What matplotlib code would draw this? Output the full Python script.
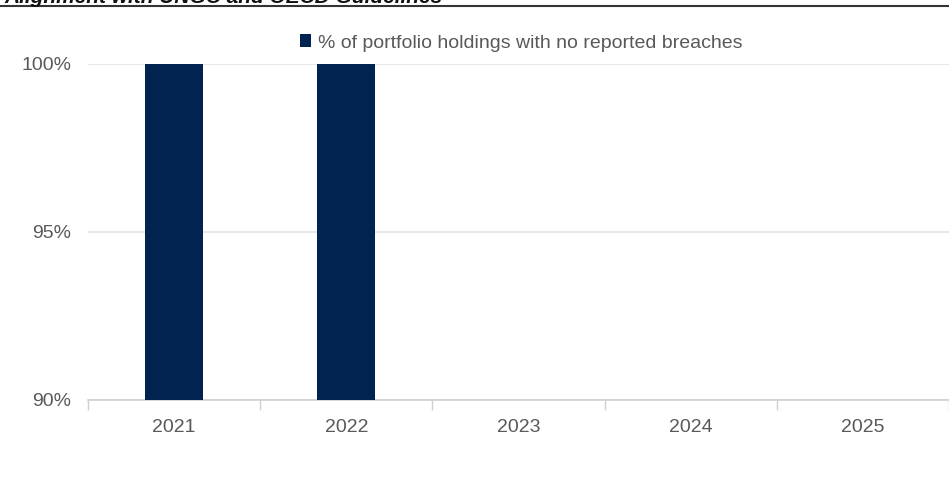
import numpy as np
import matplotlib.pyplot as plt
from matplotlib.lines import Line2D

# данные
years = ['2021', '2022', '2023', '2024', '2025']
no_breaches = [100, 100, np.nan, np.nan, np.nan]
series_name = '% of portfolio holdings with no reported breaches'
y_ticks = [90, 95, 100]

navy = '#00234f'
grey_text = '#595959'

plt.rcParams['font.family'] = ['Liberation Sans', 'DejaVu Sans']

fig = plt.figure(figsize=(9.49, 4.97), dpi=100)
ax = fig.add_axes([88 / 949, 1 - 400 / 497, (949 - 88) / 949, 336 / 497])

x = np.arange(len(years))
ax.bar(x, no_breaches, width=0.338, color=navy, zorder=3, label=series_name)

ax.set_ylim(90, 100)
ax.set_xlim(-0.5, 4.5 - 7 / 173.6)
ax.set_yticks(y_ticks)
ax.set_yticklabels([f'{v}%' for v in y_ticks])
ax.set_xticks(x)
ax.set_xticklabels(years)
ax.set_xticks(np.arange(-0.5, 5, 1), minor=True)

ax.tick_params(axis='y', length=0, pad=12, labelsize=14, labelcolor=grey_text)
ax.tick_params(axis='x', which='major', length=0, pad=14, labelsize=14, labelcolor=grey_text)
ax.tick_params(axis='x', which='minor', length=7, color='#d0d0d0', width=1)
for t in ax.get_yticklabels():
    t.set_va('center_baseline')

ax.grid(axis='y', color='#e3e3e3', linewidth=1.2, zorder=0)
for s in ['top', 'right', 'left']:
    ax.spines[s].set_visible(False)
ax.spines['bottom'].set_color('#d0d0d0')
ax.spines['bottom'].set_linewidth(1.2)

leg = fig.legend(loc='center', bbox_to_anchor=(521 / 949, 1 - 43 / 497), frameon=False,
                 fontsize=14, handlelength=0.6, handleheight=0.6, handletextpad=0.35)
for t in leg.get_texts():
    t.set_color(grey_text)

# обрезанный заголовок сверху
fig.text(0.005, 1 - 3 / 497, 'Alignment with UNGC and OECD Guidelines', fontsize=15,
         fontweight='bold', fontstyle='italic', color='#111111', va='baseline', ha='left')
fig.add_artist(Line2D([0, 1], [1 - 6 / 497, 1 - 6 / 497], color='#333333', linewidth=1.5,
                      transform=fig.transFigure))

fig.savefig('out.png', dpi=100, facecolor='white')
